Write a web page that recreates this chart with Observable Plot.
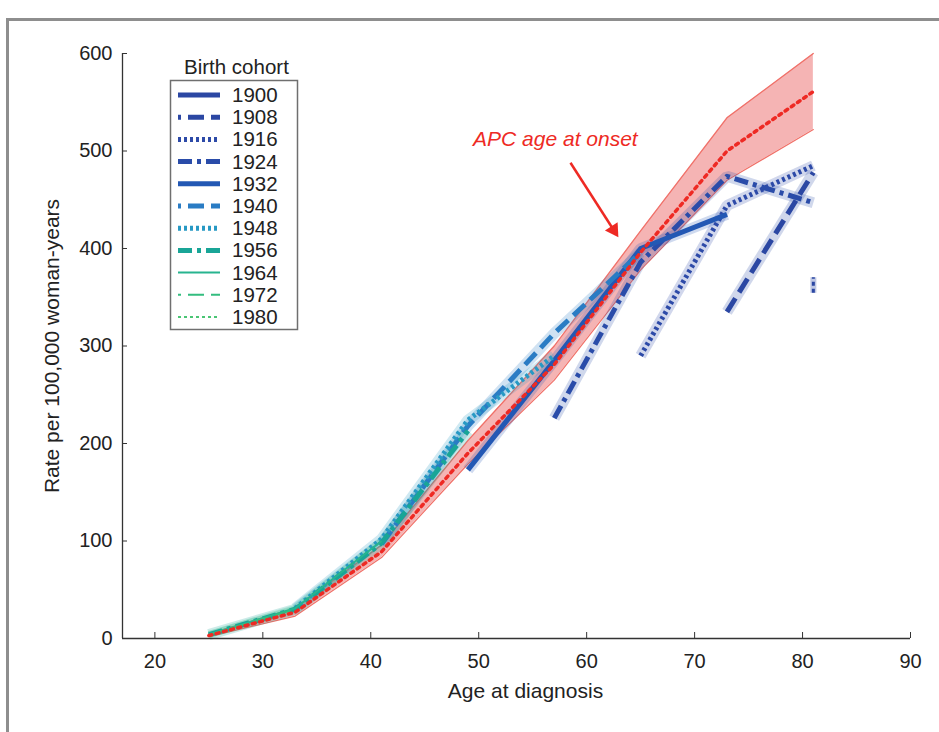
<!DOCTYPE html>
<html><head><meta charset="utf-8">
<script src="https://cdn.jsdelivr.net/npm/d3@7"></script>
<script src="https://cdn.jsdelivr.net/npm/@observablehq/plot@0.6"></script>
<style>
body{margin:0;background:#fff;}
#wrap{position:relative;width:939px;height:732px;overflow:hidden;font-family:"Liberation Sans",Arial,sans-serif;}
#frame{position:absolute;left:6px;top:18px;width:960px;height:760px;border-left:3px solid #8e8e8e;border-top:3px solid #8e8e8e;pointer-events:none;}
#legend{position:absolute;left:0;top:0;pointer-events:none;}
</style></head><body><div id="wrap"></div>
<script>
// ---- data ----
const ages = [25, 33, 41, 49, 57, 65, 73, 81];
const cohorts = [1900, 1908, 1916, 1924, 1932, 1940, 1948, 1956, 1964, 1972, 1980];
const rate1900 = [null, null, null, null, null, null, null, 362];
const rate1908 = [null, null, null, null, null, null, 335, 478];
const rate1916 = [null, null, null, null, null, 290, 444, 485];
const rate1924 = [null, null, null, null, 226, 386, 474, 447];
const rate1932 = [null, null, null, 173, 285, 400, 435, null];
const rate1940 = [null, null, 97, 218, 313, 396, null, null];
const rate1948 = [null, 31, 102, 224, 290, null, null, null];
const rate1956 = [4, 30, 98, 213, null, null, null, null];
const rate1964 = [4, 31, 100, null, null, null, null, null];
const rate1972 = [4, 30, null, null, null, null, null, null];
const rate1980 = [4, null, null, null, null, null, null, null];
const ci1900 = [354, 370];
const apcMid = [3, 27, 89, 190, 281, 396, 500, 561];
const apcLo = [2, 23, 83, 179, 265, 378, 470, 522];
const apcHi = [5, 31, 96, 203, 300, 418, 534, 600];
const xTicks = [20, 30, 40, 50, 60, 70, 80, 90];
const yTicks = [0, 100, 200, 300, 400, 500, 600];
const xLabel = "Age at diagnosis";
const yLabel = "Rate per 100,000 woman-years";
const legendTitle = "Birth cohort";
const annotationText = "APC age at onset";
const annotationPos = [57.1, 512];
const arrowFrom = [58.5, 488];
const arrowTo = [62.5, 419];

// ---- styles ----
const cohortColors = ["#2b47a3", "#2b47a3", "#2d4aa8", "#2a4ca9", "#2358b4", "#2a7cc4", "#2799c4", "#19a597", "#27b48f", "#33bd7f", "#4ac574"];
const cohortDash = ["none", "16,7", "3,3", "14,5,4,5", "none", "16,7", "3,3", "14,5,4,5", "none", "16,7", "3,3"];
const cohortWidth = [5, 5, 5, 5, 5, 5, 5, 5, 2, 2, 2];
const RED = "#ee2a24";

const series = [rate1900, rate1908, rate1916, rate1924, rate1932, rate1940, rate1948, rate1956, rate1964, rate1972, rate1980];
const rows = cohorts.flatMap((c, i) => ages.map((a, j) => ({cohort: c, age: a, rate: series[i][j]})).filter(d => d.rate != null));
const apc = ages.map((a, j) => ({age: a, mid: apcMid[j], lo: apcLo[j], hi: apcHi[j]}));

const cohortMarks = [];
const cohortBands = [];
cohorts.forEach((c, i) => {
  const data = rows.filter(d => d.cohort === c);
  if (data.length > 1) {
    cohortBands.push(Plot.line(data, {x: "age", y: "rate", stroke: cohortColors[i], strokeOpacity: 0.22, strokeWidth: cohortWidth[i] > 3 ? 11 : 7, strokeLinecap: "butt", strokeLinejoin: "miter"}));
    cohortMarks.push(Plot.line(data, {x: "age", y: "rate", stroke: cohortColors[i], strokeWidth: cohortWidth[i], strokeDasharray: cohortDash[i], strokeLinecap: "butt", strokeLinejoin: "round"}));
  } else {
    const single = [{age: data[0].age, lo: ci1900[0], hi: ci1900[1]}];
    cohortBands.push(Plot.ruleX(single, {x: "age", y1: "lo", y2: "hi", stroke: cohortColors[i], strokeOpacity: 0.3, strokeWidth: 6}));
    cohortMarks.push(Plot.ruleX(single, {x: "age", y1: "lo", y2: "hi", stroke: cohortColors[i], strokeWidth: 3, strokeDasharray: "4,3"}));
  }
});

const chart = Plot.plot({
  width: 939, height: 732,
  marginLeft: 122, marginRight: 29, marginTop: 53, marginBottom: 94,
  style: {fontFamily: "'Liberation Sans', Arial, sans-serif", fontSize: "20px", color: "#222", background: "transparent"},
  x: {domain: [17, 90]},
  y: {domain: [0, 600]},
  marks: [
    Plot.areaY(apc, {x: "age", y1: "lo", y2: "hi", fill: "#ec6a6a", fillOpacity: 0.5}),
    Plot.line(apc, {x: "age", y: "lo", stroke: "#f07068", strokeWidth: 1.2}),
    Plot.line(apc, {x: "age", y: "hi", stroke: "#f07068", strokeWidth: 1.2}),
    ...cohortBands,
    ...cohortMarks,
    Plot.line(apc, {x: "age", y: "mid", stroke: RED, strokeWidth: 3.5, strokeDasharray: "3,4.5"}),
    Plot.ruleY([0], {stroke: "#333", strokeWidth: 1.3}),
    Plot.ruleX([17], {y1: 0, y2: 600, stroke: "#333", strokeWidth: 1.3}),
    Plot.axisX({ticks: xTicks, tickSize: 0, tickPadding: 15, label: null, fill: "#222"}),
    Plot.axisX({ticks: xTicks, text: null, tickSize: 6, dy: -6, label: null, stroke: "#333"}),
    Plot.axisY({ticks: yTicks, tickSize: 0, tickPadding: 10, label: null, fill: "#222"}),
    Plot.axisY({ticks: yTicks, text: null, tickSize: 5, dx: 5, label: null, stroke: "#333"}),
    Plot.text([xLabel], {frameAnchor: "bottom", dy: 59, dx: 9, fontSize: 21, fill: "#222"}),
    Plot.text([yLabel], {frameAnchor: "left", textAnchor: "middle", dx: -70, rotate: -90, fontSize: 21, fill: "#222"}),
    Plot.text([{x: annotationPos[0], y: annotationPos[1], t: annotationText}], {x: "x", y: "y", text: "t", fill: RED, fontStyle: "italic", fontSize: 21}),
    Plot.link([{x1: arrowFrom[0], y1: arrowFrom[1], x2: arrowTo[0], y2: arrowTo[1]}], {x1: "x1", y1: "y1", x2: "x2", y2: "y2", stroke: RED, strokeWidth: 2.5}),
    Plot.dot([{x: arrowTo[0], y: arrowTo[1]}], {x: "x", y: "y", symbol: "triangle", r: 5.6, fill: RED, stroke: "none", rotate: 147})
  ]
});

const wrap = document.getElementById("wrap");
wrap.appendChild(chart);
const frame = document.createElement("div");
frame.id = "frame";
wrap.appendChild(frame);

// ---- legend ----
const lg = d3.select(wrap).append("svg").attr("id", "legend").attr("width", 939).attr("height", 732)
  .style("font-family", "'Liberation Sans', Arial, sans-serif");
lg.append("text").attr("x", 184).attr("y", 74).attr("font-size", 20.5).attr("fill", "#222").text(legendTitle);
lg.append("rect").attr("x", 170.5).attr("y", 80.5).attr("width", 127).attr("height", 249)
  .attr("fill", "#fff").attr("stroke", "#6f6f6f").attr("stroke-width", 1.5);
cohorts.forEach((c, i) => {
  const y = 95 + i * 22.2;
  lg.append("line").attr("x1", 178).attr("x2", 220).attr("y1", y).attr("y2", y)
    .attr("stroke", cohortColors[i]).attr("stroke-width", cohortWidth[i])
    .attr("stroke-dasharray", cohortDash[i]).attr("stroke-dashoffset", cohortDash[i] === "16,7" ? -10 : 0);
  lg.append("text").attr("x", 232).attr("y", y + 7).attr("font-size", 20.5).attr("fill", "#222").text(c);
});
</script></body></html>
